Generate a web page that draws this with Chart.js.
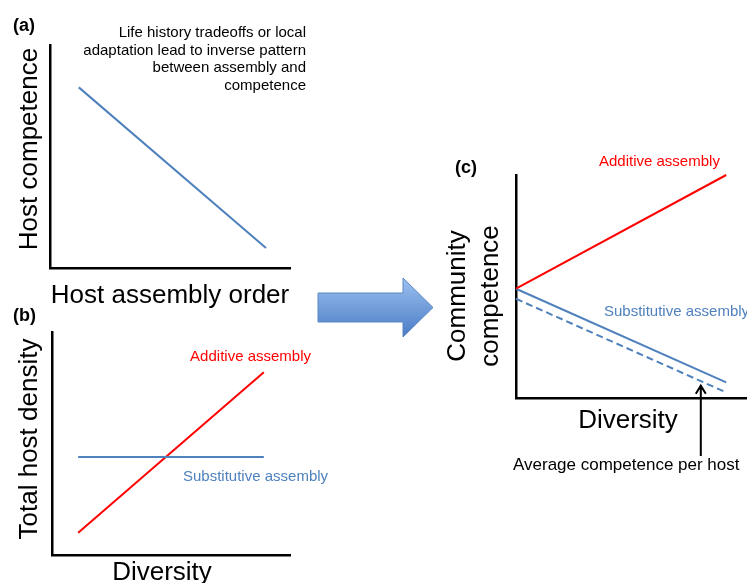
<!DOCTYPE html>
<html>
<head>
<meta charset="utf-8">
<script src="https://cdn.jsdelivr.net/npm/chart.js@4.4.1/dist/chart.umd.min.js"></script>
<style>
  body { margin: 0; background: #fff; overflow: hidden; }
  #wrap { position: relative; width: 747px; height: 583px; overflow: hidden; font-family: "Liberation Sans", Arial, sans-serif; }
  canvas { position: absolute; left: 0; top: 0; }
  .t { position: absolute; white-space: nowrap; line-height: 1; color: #000; }
  .big { font-size: 26px; }
  .small { font-size: 15px; }
  .panel { font-size: 18px; font-weight: bold; }
  .rot { transform: translate(-50%, -50%) rotate(-90deg); text-align: center; }
  .red { color: #ff0000; }
  .blue { color: #4f81bd; }
</style>
</head>
<body>
<div id="wrap">
  <canvas id="chart_a" width="747" height="583"></canvas>
  <canvas id="chart_b" width="747" height="583"></canvas>
  <canvas id="chart_c" width="747" height="583"></canvas>

  <!-- the block arrow between the panels -->
  <svg width="747" height="583" style="position:absolute;left:0;top:0">
    <defs>
      <linearGradient id="arrowfill" x1="0" y1="0" x2="0" y2="1">
        <stop offset="0" stop-color="#9cc0ef"/>
        <stop offset="1" stop-color="#4a7cc6"/>
      </linearGradient>
    </defs>
    <polygon points="318,293 403,293 403,278 433,307.5 403,337 403,322 318,322"
             fill="url(#arrowfill)" stroke="#5b87c4" stroke-width="1"/>
  </svg>

  <!-- panel (a) texts -->
  <div class="t panel" style="left:13px;top:16px">(a)</div>
  <div class="t small" style="right:441px;top:23px;line-height:17.6px;text-align:right">Life history tradeoffs or local<br>adaptation lead to inverse pattern<br>between assembly and<br>competence</div>
  <div class="t big rot" style="left:28px;top:149px">Host competence</div>
  <div class="t big" style="left:170px;top:281px;transform:translateX(-50%)">Host assembly order</div>

  <!-- panel (b) texts -->
  <div class="t panel" style="left:13px;top:306px">(b)</div>
  <div class="t small red" style="right:436px;top:348px">Additive assembly</div>
  <div class="t small blue" style="left:183px;top:468px">Substitutive assembly</div>
  <div class="t big rot" style="left:28px;top:439px">Total host density</div>
  <div class="t big" style="left:162px;top:558px;transform:translateX(-50%)">Diversity</div>

  <!-- panel (c) texts -->
  <div class="t panel" style="left:455px;top:158px">(c)</div>
  <div class="t small red" style="left:599px;top:153px">Additive assembly</div>
  <div class="t small blue" style="left:604px;top:303px">Substitutive assembly</div>
  <div class="t big rot" style="left:473px;top:296px;line-height:33px">Community<br>competence</div>
  <div class="t big" style="left:628px;top:406px;transform:translateX(-50%)">Diversity</div>
  <div class="t" style="left:513px;top:456px;font-size:17px">Average competence per host</div>
</div>

<script>
// (a) host competence falls with assembly order
const a_order = [1.2, 9.0]
const a_competence = [8.1, 0.9]

// (b) total host density against diversity
const b_diversity = [1.1, 8.9]
const b_additive = [1.0, 8.2]
const b_substitutive = [4.4, 4.4]

// (c) community competence against diversity
const c_diversity = [0, 9.1]
const c_additive = [4.9, 10]
const c_substitutive = [4.9, 0.7]
const c_average = [4.45, 0.25]

// the pointer under (c): x value, bottom and tip in y values
const c_pointer = [8.0, -2.6, 0.55]

const RED = '#ff0000'
const BLUE = '#4f81bd'

function to_points(xs, ys) {
  return xs.map((x, i) => ({x: x, y: ys[i]}))
}

function line_set(xs, ys, color, dash) {
  return {
    data: to_points(xs, ys),
    borderColor: color,
    borderWidth: 2,
    borderDash: dash || [],
    pointRadius: 0,
    tension: 0,
    clip: false
  }
}

function blank_axis() {
  return {
    type: 'linear', min: 0, max: 10,
    ticks: {display: false},
    grid: {display: false, drawTicks: false},
    border: {display: true, color: '#000', width: 2.5}
  }
}

// draws the arrow that points at the dashed line in (c)
const pointer_plugin = {
  id: 'pointer',
  afterDatasetsDraw(chart) {
    const ctx = chart.ctx
    const x = chart.scales.x.getPixelForValue(c_pointer[0])
    const y0 = chart.scales.y.getPixelForValue(c_pointer[1])
    const y1 = chart.scales.y.getPixelForValue(c_pointer[2])
    ctx.save()
    ctx.strokeStyle = '#000'
    ctx.lineWidth = 2
    ctx.beginPath()
    ctx.moveTo(x, y0)
    ctx.lineTo(x, y1)
    ctx.moveTo(x - 5, y1 + 8)
    ctx.lineTo(x, y1)
    ctx.lineTo(x + 5, y1 + 8)
    ctx.stroke()
    ctx.restore()
  }
}

function make_chart(id, datasets, pad, plugins) {
  return new Chart(document.getElementById(id), {
    type: 'line',
    data: {datasets: datasets},
    options: {
      responsive: false,
      animation: false,
      layout: {padding: pad},
      plugins: {legend: {display: false}, tooltip: {enabled: false}},
      scales: {x: blank_axis(), y: blank_axis()}
    },
    plugins: plugins || []
  })
}

make_chart('chart_a', [
  line_set(a_order, a_competence, BLUE)
], {left: 50, top: 45, right: 457, bottom: 315})

make_chart('chart_b', [
  line_set(b_diversity, b_substitutive, BLUE),
  line_set(b_diversity, b_additive, RED)
], {left: 52, top: 332, right: 457, bottom: 28})

make_chart('chart_c', [
  line_set(c_diversity, c_additive, RED),
  line_set(c_diversity, c_substitutive, BLUE),
  line_set(c_diversity, c_average, BLUE, [7, 4])
], {left: 516, top: 175, right: 0, bottom: 185}, [pointer_plugin])
</script>
</body>
</html>
